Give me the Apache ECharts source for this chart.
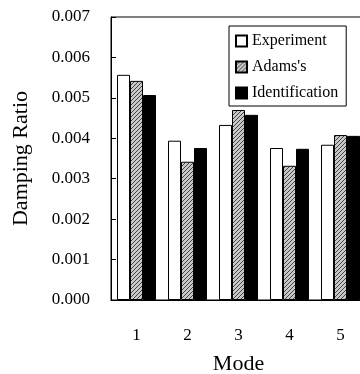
<!DOCTYPE html>
<html>
<head>
<meta charset="utf-8">
<script src="https://cdn.jsdelivr.net/npm/echarts@6/dist/echarts.min.js"></script>
<style>
    html, body { margin: 0; padding: 0; background: #fff; }
    #main { width: 360px; height: 374px; }
</style>
</head>
<body>
<div id="main"></div>
<script>
    var modes = ['1', '2', '3', '4', '5'];
    var experiment = [0.00557, 0.00394, 0.00433, 0.00376, 0.00384];
    var adams = [0.00542, 0.00342, 0.00470, 0.00332, 0.00408];
    var identification = [0.00507, 0.00376, 0.00458, 0.00374, 0.00406];
    var yTicks = ['0.000', '0.001', '0.002', '0.003', '0.004', '0.005', '0.006', '0.007'];

    // hatched fill for the Adams's bars
    var hatch = document.createElement('canvas');
    hatch.width = 4;
    hatch.height = 4;
    var ctx = hatch.getContext('2d');
    ctx.fillStyle = '#c8c8c8';
    ctx.fillRect(0, 0, 4, 4);
    ctx.strokeStyle = '#444';
    ctx.lineWidth = 1;
    ctx.beginPath();
    ctx.moveTo(0, 4); ctx.lineTo(4, 0);
    ctx.moveTo(-1, 1); ctx.lineTo(1, -1);
    ctx.moveTo(3, 5); ctx.lineTo(5, 3);
    ctx.stroke();

    var font = 'Liberation Serif';
    var myChart = echarts.init(document.getElementById('main'));
    var option = {
        animation: false,
        textStyle: { fontFamily: font, color: '#000' },
        grid: {
            left: 111, top: 17, width: 255, height: 283,
            outerBoundsMode: 'none', containLabel: false,
            show: true, borderColor: '#000', borderWidth: 1
        },
        legend: {
            orient: 'vertical',
            left: 229, top: 26,
            padding: [6, 8, 4, 6],
            borderColor: '#000', borderWidth: 1,
            backgroundColor: '#fff',
            icon: 'rect',
            itemWidth: 11, itemHeight: 11, itemGap: 8,
            textStyle: { fontFamily: font, fontSize: 16, color: '#000', lineHeight: 18 },
            data: ['Experiment', "Adams's", 'Identification']
        },
        xAxis: {
            type: 'category',
            data: modes,
            name: 'Mode',
            nameLocation: 'middle',
            nameGap: 53,
            nameTextStyle: { fontFamily: font, fontSize: 22, color: '#000' },
            axisLine: { lineStyle: { color: '#000' } },
            axisTick: { show: false },
            axisLabel: { fontFamily: font, fontSize: 17, color: '#000', margin: 27 }
        },
        yAxis: {
            type: 'value',
            min: 0, max: 0.007, interval: 0.001,
            name: 'Damping Ratio',
            nameLocation: 'middle',
            nameGap: 79,
            nameTextStyle: { fontFamily: font, fontSize: 22, color: '#000' },
            axisLine: { show: true, lineStyle: { color: '#000' } },
            axisTick: { show: true, inside: true, length: 5, lineStyle: { color: '#000' } },
            splitLine: { show: false },
            axisLabel: {
                fontFamily: font, fontSize: 17, color: '#000', margin: 21,
                formatter: function (v) { return yTicks[Math.round(v * 1000)]; }
            }
        },
        series: [
            {
                name: 'Experiment', type: 'bar', data: experiment,
                barWidth: 13, barGap: '0%',
                itemStyle: { color: '#fff', borderColor: '#000', borderWidth: 1 }
            },
            {
                name: "Adams's", type: 'bar', data: adams,
                barWidth: 13, barGap: '0%',
                itemStyle: { color: { image: hatch, repeat: 'repeat' }, borderColor: '#000', borderWidth: 1 }
            },
            {
                name: 'Identification', type: 'bar', data: identification,
                barWidth: 13, barGap: '0%',
                itemStyle: { color: '#000', borderColor: '#000', borderWidth: 1 }
            }
        ]
    };
    myChart.setOption(option);
</script>
</body>
</html>
